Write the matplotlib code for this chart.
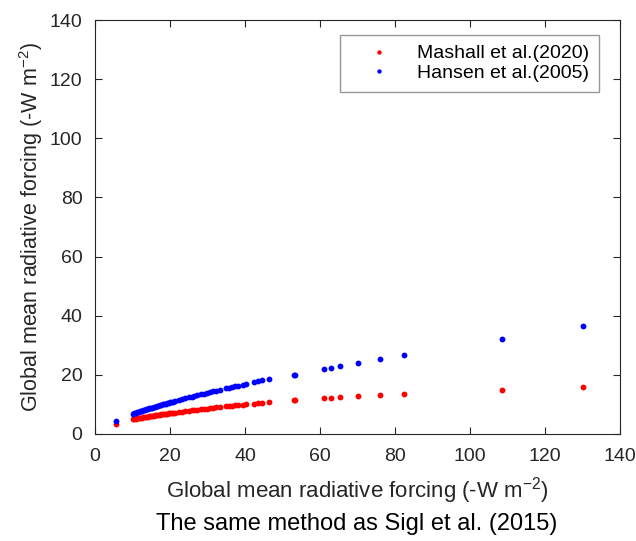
import matplotlib
matplotlib.use("Agg")
import matplotlib.pyplot as plt

plt.rcParams['font.family'] = ['Liberation Sans', 'DejaVu Sans']
plt.rcParams['mathtext.fontset'] = 'custom'
plt.rcParams['mathtext.rm'] = 'Liberation Sans'
plt.rcParams['mathtext.default'] = 'regular'

# x: Global mean radiative forcing (input)
x_vals = [5.6, 10.0, 10.4, 10.8, 11.2, 11.6, 12.0, 12.4, 12.8, 13.2, 13.6, 14.0, 14.4, 14.8,
          15.2, 15.6, 16.0, 16.4, 16.8, 17.2, 17.6, 18.0, 18.4, 18.8, 19.2, 19.6, 20.0, 20.4,
          20.8, 21.3, 22.5, 23.2, 24.0, 25.0, 25.8, 26.5, 27.3, 28.2, 29.0, 29.8, 30.6, 31.5,
          32.3, 33.2, 34.8, 35.6, 36.5, 37.4, 38.2, 39.5, 40.3, 42.4, 43.5, 44.6, 46.4,
          53.0, 53.4, 61.1, 62.8, 65.2, 70.2, 76.1, 82.4, 108.4, 130.1]

mashall = [3.4, 4.97, 5.07, 5.17, 5.26, 5.35, 5.45, 5.54, 5.63, 5.72, 5.80, 5.89, 5.97, 6.05,
           6.14, 6.22, 6.30, 6.38, 6.45, 6.53, 6.61, 6.68, 6.76, 6.83, 6.90, 6.98, 7.05, 7.12,
           7.19, 7.27, 7.48, 7.59, 7.73, 7.89, 8.01, 8.12, 8.24, 8.38, 8.50, 8.62, 8.73, 8.86,
           8.97, 9.10, 9.32, 9.42, 9.54, 9.66, 9.76, 9.93, 10.03, 10.29, 10.43, 10.56, 10.77,
           11.35, 11.4, 12.07, 12.2, 12.4, 12.7, 13.2, 13.5, 14.9, 15.8]

hansen = [4.4, 6.81, 6.98, 7.16, 7.33, 7.50, 7.67, 7.84, 8.00, 8.16, 8.32, 8.48, 8.64, 8.80,
          8.95, 9.10, 9.26, 9.41, 9.56, 9.71, 9.85, 10.00, 10.14, 10.29, 10.43, 10.57, 10.71, 10.85,
          10.99, 11.16, 11.57, 11.80, 12.07, 12.40, 12.65, 12.88, 13.13, 13.41, 13.66, 13.90, 14.15, 14.42,
          14.66, 14.92, 15.39, 15.62, 15.87, 16.13, 16.35, 16.72, 16.94, 17.51, 17.80, 18.10, 18.58,
          19.95, 20.0, 21.9, 22.3, 22.9, 24.1, 25.4, 26.8, 32.2, 36.4]

ticks = [0, 20, 40, 60, 80, 100, 120, 140]

fig = plt.figure(figsize=(6.36, 5.41), dpi=100)
ax = fig.add_axes([95/636, 1-434/541, (620-95)/636, (434-20)/541])

ax.plot(x_vals, mashall, 'o', color='#ff0000', markersize=4.2, markeredgewidth=0,
        label='Mashall et al.(2020)')
ax.plot(x_vals, hansen, 'o', color='#0000ff', markersize=4.2, markeredgewidth=0,
        label='Hansen et al.(2005)')

ax.set_xlim(0, 140)
ax.set_ylim(0, 140)
ax.set_xticks(ticks)
ax.set_yticks(ticks)
ax.tick_params(direction='in', top=True, right=True, labelsize=14, length=5,
               width=0.8, colors='#262626')
ax.tick_params(axis='x', pad=10)
ax.tick_params(axis='y', pad=9)
for s in ax.spines.values():
    s.set_color('#262626')
    s.set_linewidth(0.8)

lab = 'Global mean radiative forcing (-W m$^{-2}$)'
fig.text(31/636, 1-227/541, lab, fontsize=15.5, rotation=90, ha='center', va='center',
         color='#262626')
fig.text(357/636, 1-491/541, lab, fontsize=16, ha='center', va='center', color='#262626')
fig.text(357/636, 1-524/541, 'The same method as Sigl et al. (2015)', fontsize=17,
         ha='center', va='center', color='black')

leg = ax.legend(loc='upper right', bbox_to_anchor=(599/636, 1-35/541),
                bbox_transform=fig.transFigure, fontsize=14, frameon=True, fancybox=False,
                edgecolor='#7f7f7f', markerscale=0.75, handlelength=3.0, handletextpad=0.45,
                borderpad=0.5, labelspacing=0.12, borderaxespad=0)
leg.get_frame().set_linewidth(1.0)

fig.savefig('out.png', dpi=100)
